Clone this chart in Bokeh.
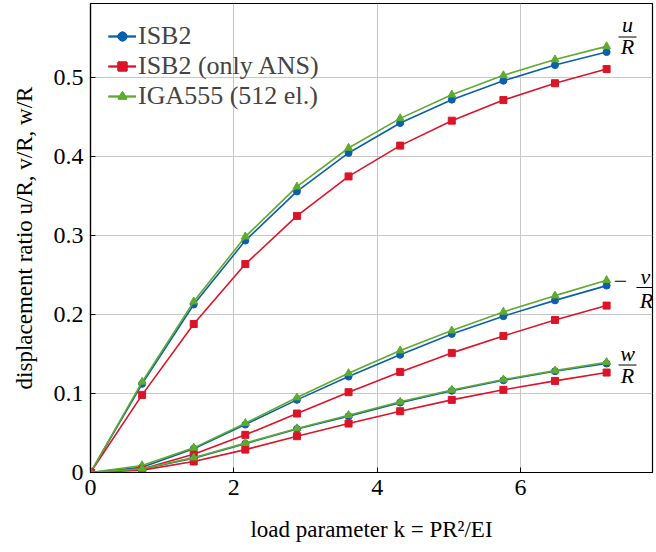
from bokeh.plotting import figure
from bokeh.models import Label, FixedTicker, Range1d, Arrow
from bokeh.embed import file_html
from bokeh.resources import INLINE

k = [0, 0.72, 1.44, 2.16, 2.88, 3.6, 4.32, 5.04, 5.76, 6.48, 7.2]

u_isb2 = [0, 0.1123, 0.2127, 0.2937, 0.356, 0.4047, 0.4426, 0.4722, 0.4962, 0.516, 0.5325]
u_ans = [0, 0.0983, 0.188, 0.264, 0.325, 0.375, 0.414, 0.4456, 0.4717, 0.493, 0.511]
u_iga = [0, 0.1148, 0.2165, 0.2987, 0.362, 0.411, 0.4485, 0.4785, 0.503, 0.523, 0.5397]

v_isb2 = [0, 0.0065, 0.030, 0.0607, 0.092, 0.1215, 0.149, 0.1755, 0.198, 0.218, 0.2367]
v_ans = [0, 0.0045, 0.0232, 0.0477, 0.0747, 0.1017, 0.1274, 0.1515, 0.173, 0.1932, 0.2114]
v_iga = [0, 0.0089, 0.0312, 0.0624, 0.0949, 0.1257, 0.1544, 0.1797, 0.2034, 0.224, 0.2435]

w_isb2 = [0, 0.0045, 0.0182, 0.0365, 0.0552, 0.0713, 0.0885, 0.1035, 0.1168, 0.1283, 0.138]
w_ans = [0, 0.003, 0.0139, 0.029, 0.046, 0.062, 0.0776, 0.092, 0.1047, 0.116, 0.1266]
w_iga = [0, 0.0048, 0.0188, 0.0372, 0.0558, 0.0726, 0.0895, 0.1046, 0.1177, 0.129, 0.1397]

names = ["ISB2", "ISB2 (only ANS)", "IGA555 (512 el.)"]
colors = ["#0b5fad", "#dc1428", "#5fab2e"]
markers = ["circle", "square", "triangle"]
msizes = [7, 7, 8]

x_ticks = [0, 2, 4, 6]
x_tick_labels = ["0", "2", "4", "6"]
y_ticks = [0, 0.1, 0.2, 0.3, 0.4, 0.5]
y_tick_labels = ["0", "0.1", "0.2", "0.3", "0.4", "0.5"]

x_title = "load parameter k = PR\u00b2/EI"
y_title = "displacement ratio u/R, v/R, w/R"

FONT = "Liberation Serif"

p = figure(frame_width=562, frame_height=469, output_backend="svg", toolbar_location=None,
           x_range=Range1d(0, 7.84), y_range=Range1d(0, 0.594),
           min_border_left=90, min_border_right=4, min_border_top=3, min_border_bottom=80)

p.background_fill_color = "white"
p.border_fill_color = "white"
p.outline_line_color = "black"
p.outline_line_width = 1.2

xa = p.xaxis[0]
ya = p.yaxis[0]
for ax in (xa, ya):
    ax.axis_line_color = "black"
    ax.axis_line_width = 1.2
    ax.major_tick_in = 5
    ax.major_tick_out = 0
    ax.minor_tick_line_color = None
    ax.major_tick_line_color = "black"
    ax.major_label_text_font = FONT
    ax.major_label_text_font_size = "24px"
    ax.major_label_text_color = "black"
    ax.axis_label_text_font = FONT
    ax.axis_label_text_font_size = "23px"
    ax.axis_label_text_font_style = "normal"
    ax.axis_label_text_color = "black"

xa.ticker = FixedTicker(ticks=x_ticks)
ya.ticker = FixedTicker(ticks=y_ticks)
xa.major_label_overrides = dict(zip(x_ticks, x_tick_labels))
ya.major_label_overrides = dict(zip(y_ticks, y_tick_labels))
xa.major_label_standoff = 7
ya.major_label_standoff = 7

xa.axis_label = x_title
ya.axis_label = y_title
xa.axis_label_standoff = 19
ya.axis_label_standoff = 14

p.grid.grid_line_color = "#c8c8c8"
p.grid.grid_line_width = 1

series = [
    (u_isb2, u_ans, u_iga),
    (v_isb2, v_ans, v_iga),
    (w_isb2, w_ans, w_iga),
]

for group in series:
    for i, ys in enumerate(group):
        p.line(k, ys, line_color=colors[i], line_width=1.6, legend_label=names[i])
        p.scatter(k, ys, marker=markers[i], size=msizes[i], fill_color=colors[i],
                  line_color=colors[i], legend_label=names[i])


# ---- curve labels (screen units, relative to the plot frame) ----
def txt(x, y, s, size, italic=False, align="center", baseline="alphabetic"):
    p.add_layout(Label(x=x, y=y, x_units="screen", y_units="screen", text=s,
                       text_font=FONT, text_font_size=f"{size}px",
                       text_font_style="italic" if italic else "normal",
                       text_color="black", text_align=align, text_baseline=baseline))


def bar(x0, y0, x1, y1):
    p.add_layout(Arrow(end=None, x_start=x0, y_start=y0, x_end=x1, y_end=y1,
                       start_units="screen", end_units="screen",
                       line_color="black", line_width=1))


DY = 7
txt(537, 441 + DY, "u", 22, italic=True)
bar(528, 435.5, 546, 435.5)
txt(537, 419 + DY, "R", 22, italic=True)

txt(530, 184 + DY, "\u2212", 24)
txt(555, 189 + DY, "v", 22, italic=True)
bar(546, 185, 564, 185)
txt(556, 165 + DY, "R", 22, italic=True)

txt(537, 112 + DY, "w", 22, italic=True)
bar(528, 107.5, 546, 107.5)
txt(537, 90 + DY, "R", 22, italic=True)

p.legend.location = "top_left"
p.legend.label_text_font = FONT
p.legend.label_text_font_size = "26px"
p.legend.glyph_width = 28
p.legend.label_height = 22
p.legend.glyph_height = 22
p.legend.spacing = -7
p.legend.padding = 7
p.legend.margin = 11
p.legend.border_line_alpha = 0
p.legend.background_fill_alpha = 0
p.legend.label_standoff = 2

open("out.html", "w").write(file_html(p, INLINE))
